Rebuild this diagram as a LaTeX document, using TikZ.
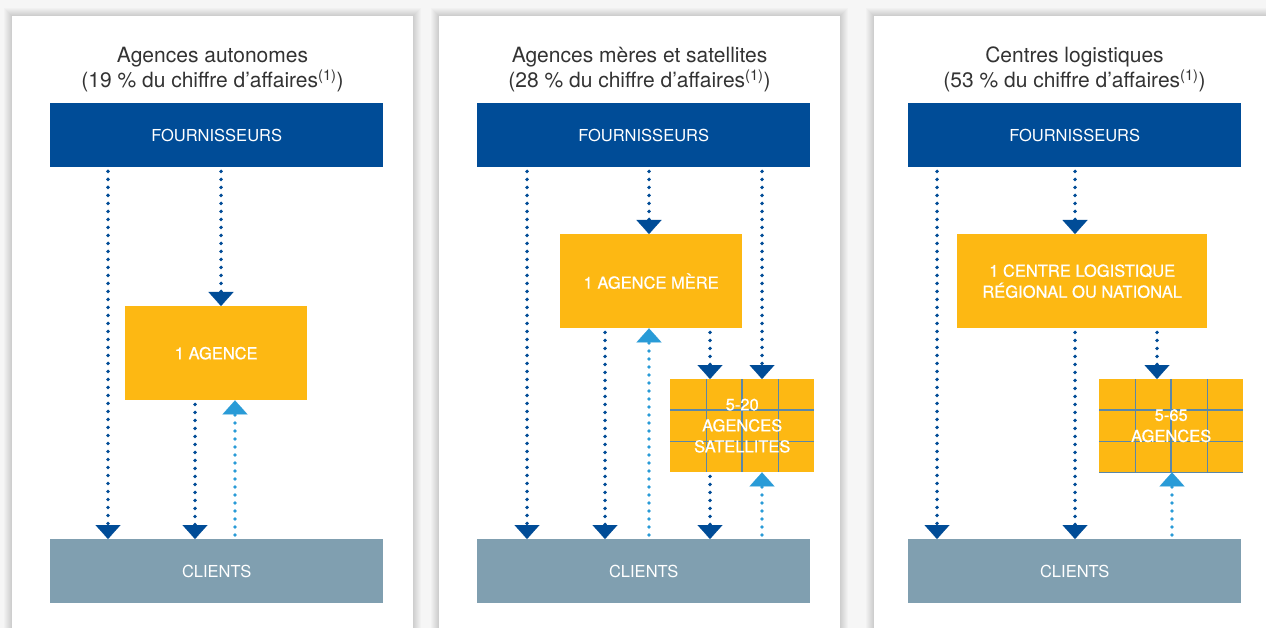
\documentclass[tikz,border=0pt]{standalone}
\usepackage{fontspec}
\setmainfont{TeX Gyre Heros}
\newfontfamily\hubfont[FakeBold=0.7]{TeX Gyre Heros}
\usepackage{xcolor}
\usetikzlibrary{positioning,arrows.meta,calc}
\definecolor{fournblue}{RGB}{0,76,151}
\definecolor{agyellow}{RGB}{253,184,19}
\definecolor{clientgray}{RGB}{128,159,176}
\definecolor{flowlight}{RGB}{41,155,215}
\definecolor{gridblue}{RGB}{90,135,168}
\definecolor{titlegray}{RGB}{51,51,51}
\definecolor{pagegray}{RGB}{246,246,246}

\begin{document}
\begin{tikzpicture}[
    x=1pt, y=-1pt,
    title/.style={align=center, text=titlegray, font=\fontsize{21}{25}\selectfont, inner sep=0pt, anchor=base},
    supplier/.style={fill=fournblue, text=white, minimum width=333pt, minimum height=64pt, inner sep=0pt, anchor=north west, font=\fontsize{16.5}{21}\selectfont},
    client/.style={supplier, fill=clientgray},
    hub/.style={fill=agyellow, text=white, align=center, inner sep=0pt, anchor=north west, font=\hubfont\fontsize{16.5}{21}\selectfont},
    gridbox/.style={hub, minimum width=144pt, minimum height=93pt, path picture={
        \foreach \f/\w in {0.25/1pt, 0.5/1.8pt, 0.75/1pt}
            \draw[gridblue, line width=\w] ($(path picture bounding box.north west)!\f!(path picture bounding box.north east)$) -- ($(path picture bounding box.south west)!\f!(path picture bounding box.south east)$);
        \foreach \f/\w in {0.333/1.8pt, 0.667/1pt}
            \draw[gridblue, line width=\w] ($(path picture bounding box.north west)!\f!(path picture bounding box.south west)$) -- ($(path picture bounding box.north east)!\f!(path picture bounding box.south east)$);
    }},
    flowdown/.style={draw=fournblue, line width=3.8pt, line cap=round, dash pattern=on 0pt off 8pt, shorten <=4pt, -{Triangle[width=25pt, length=14pt, line width=0.1pt]}},
    flowup/.style={flowdown, draw=flowlight},
    shade/.style={fill=black, opacity=0.018}
]
    \useasboundingbox (0,0) rectangle (1266,628);
    \fill[pagegray] (0,0) rectangle (1266,628);

    % Panels with soft edges
    \foreach \px in {12,439,874} {
        \foreach \i in {1,...,8}
            \fill[shade] (\px-\i,16-\i) rectangle (\px+401+\i,650);
        \fill[white] (\px,16) rectangle (\px+401,650);
    }

    % Titles (anchored on the second line)
    \node[title] (t1) at (212.5,88) {Agences autonomes\\(19~\% du chiffre d’affaires\textsuperscript{(1)})};
    \node[title] (t2) at (639.5,88) {Agences mères et satellites\\(28~\% du chiffre d’affaires\textsuperscript{(1)})};
    \node[title] (t3) at (1074.5,88) {Centres logistiques\\(53~\% du chiffre d’affaires\textsuperscript{(1)})};

    % Nodes
    \node[supplier] (f1) at (50,103) {FOURNISSEURS};
    \node[client] (c1) at (50,539) {CLIENTS};
    \node[hub, minimum width=182pt, minimum height=94pt] (ag1) at (125,306) {1 AGENCE};

    \node[supplier] (f2) at (477,103) {FOURNISSEURS};
    \node[client] (c2) at (477,539) {CLIENTS};
    \node[hub, minimum width=182pt, minimum height=94pt] (m2) at (560,234) {1 AGENCE MÈRE};
    \node[gridbox] (s2) at (670,379) {5-20\\AGENCES\\SATELLITES};

    \node[supplier] (f3) at (908,103) {FOURNISSEURS};
    \node[client] (c3) at (908,539) {CLIENTS};
    \node[hub, minimum width=250pt, minimum height=94pt] (l3) at (957,234) {1 CENTRE LOGISTIQUE\\RÉGIONAL OU NATIONAL};
    \node[gridbox] (a3) at (1099,379) {5-65\\AGENCES};
    \draw[gridblue, line width=1pt] (a3.south west) -- (a3.south east);

    % Connections
    \draw[flowdown] (f1.south -| 108,0) -- (c1.north -| 108,0);
    \draw[flowdown] (f1.south -| 221,0) -- (ag1.north -| 221,0);
    \draw[flowdown] (ag1.south -| 195,0) -- (c1.north -| 195,0);
    \draw[flowup] (c1.north -| 235,0) -- (ag1.south -| 235,0);

    \draw[flowdown] (f2.south -| 527,0) -- (c2.north -| 527,0);
    \draw[flowdown] (f2.south -| 649,0) -- (m2.north -| 649,0);
    \draw[flowdown] (m2.south -| 605,0) -- (c2.north -| 605,0);
    \draw[flowup] (c2.north -| 649,0) -- (m2.south -| 649,0);
    \draw[flowdown] (m2.south -| 710,0) -- (s2.north -| 710,0);
    \draw[flowdown] (f2.south -| 762,0) -- (s2.north -| 762,0);
    \draw[flowdown] (s2.south -| 710,0) -- (c2.north -| 710,0);
    \draw[flowup] (c2.north -| 762,0) -- (s2.south -| 762,0);

    \draw[flowdown] (f3.south -| 937,0) -- (c3.north -| 937,0);
    \draw[flowdown] (f3.south -| 1075,0) -- (l3.north -| 1075,0);
    \draw[flowdown] (l3.south -| 1075,0) -- (c3.north -| 1075,0);
    \draw[flowdown] (l3.south -| 1157,0) -- (a3.north -| 1157,0);
    \draw[flowup] (c3.north -| 1172,0) -- (a3.south -| 1172,0);
\end{tikzpicture}
\end{document}
